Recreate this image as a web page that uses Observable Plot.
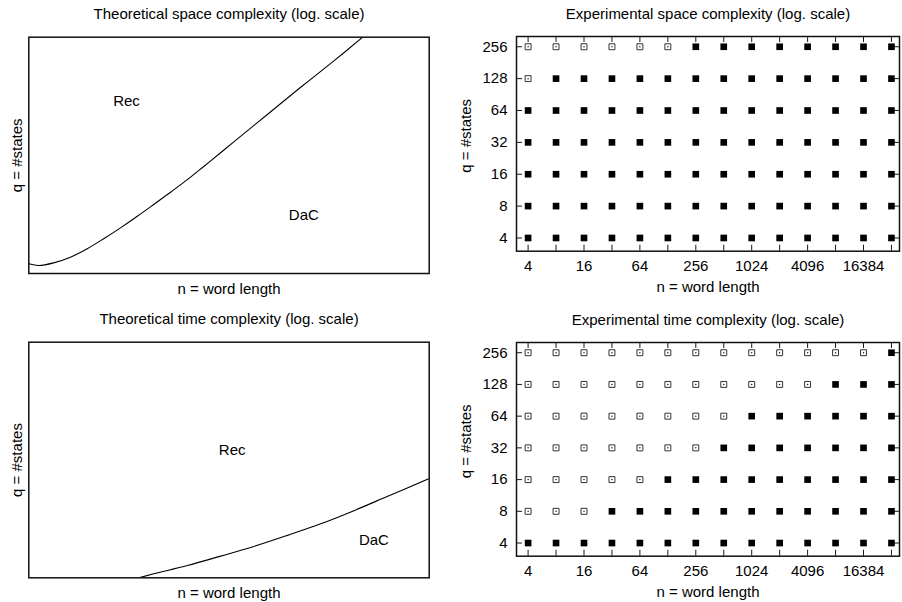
<!DOCTYPE html>
<html>
<head>
<meta charset="utf-8">
<script src="https://cdn.jsdelivr.net/npm/d3@7"></script>
<script src="https://cdn.jsdelivr.net/npm/@observablehq/plot@0.6"></script>
<style>
  html, body { margin: 0; padding: 0; background: #fff; }
  #chart { position: relative; width: 902px; height: 602px; overflow: hidden; background: #fff; }
  #chart svg { position: absolute; }
</style>
</head>
<body>
<div id="chart"></div>
<script>
// ---------- data ----------
const panelTitles = [
  "Theoretical space complexity (log. scale)",
  "Experimental space complexity (log. scale)",
  "Theoretical time complexity (log. scale)",
  "Experimental time complexity (log. scale)"
];
const xAxisLabel = "n = word length";
const yAxisLabel = "q = #states";

// theoretical boundaries (normalised log-log units, 0..1 across the frame)
const spaceBoundaryN = [0.000, 0.025, 0.062, 0.104, 0.146, 0.187, 0.229, 0.271, 0.312, 0.354, 0.396, 0.437, 0.479, 0.512, 0.595, 0.679, 0.762, 0.834];
const spaceBoundaryQ = [0.041, 0.034, 0.045, 0.069, 0.105, 0.147, 0.193, 0.242, 0.292, 0.344, 0.397, 0.453, 0.511, 0.557, 0.672, 0.788, 0.900, 1.000];
const timeBoundaryN  = [0.275, 0.312, 0.396, 0.479, 0.562, 0.646, 0.729, 0.812, 0.895, 1.000];
const timeBoundaryQ  = [0.000, 0.017, 0.052, 0.092, 0.133, 0.180, 0.229, 0.285, 0.345, 0.421];

const regionNames  = ["Rec", "DaC"];
const spaceRegionN = [0.244, 0.687];
const spaceRegionQ = [0.729, 0.245];
const timeRegionN  = [0.508, 0.862];
const timeRegionQ  = [0.542, 0.160];

// experimental grid
const nValues = [4, 8, 16, 32, 64, 128, 256, 512, 1024, 2048, 4096, 8192, 16384, 32768];
const qValues = [4, 8, 16, 32, 64, 128, 256];
const nTickLabels = [4, 16, 64, 256, 1024, 4096, 16384];
// for each q (same order as qValues): smallest n from which DaC wins (filled square)
const spaceDaCFrom = [4, 4, 4, 4, 4, 8, 256];
const timeDaCFrom  = [4, 32, 128, 512, 1024, 8192, 32768];

// ---------- drawing ----------
const FONT = '"Liberation Sans", Arial, Helvetica, sans-serif';
const FS = 15;
const chart = document.getElementById("chart");

function place(svg, left, top) {
  svg.style.left = left + "px";
  svg.style.top = top + "px";
  chart.appendChild(svg);
}

function baseStyle() {
  return {fontFamily: FONT, fontSize: FS + "px", background: "transparent", color: "#000", overflow: "visible"};
}

function txt(opts) {
  return Object.assign({fontSize: FS, fontFamily: FONT, fill: "#000"}, opts);
}

function theoPanel(title, bN, bQ, rN, rQ, m) {
  const curve = bN.map((n, i) => ({n, q: bQ[i]}));
  const regions = regionNames.map((name, i) => ({name, n: rN[i], q: rQ[i]}));
  return Plot.plot({
    width: 451, height: 301,
    marginLeft: m.l, marginRight: m.r, marginTop: m.t, marginBottom: m.b,
    x: {domain: [0, 1], axis: null},
    y: {domain: [0, 1], axis: null},
    style: baseStyle(),
    marks: [
      Plot.line(curve, {x: "n", y: "q", curve: "catmull-rom", stroke: "#000", strokeWidth: 1.1, clip: true}),
      Plot.text(regions, txt({x: "n", y: "q", text: "name"})),
      Plot.frame({stroke: "#111", strokeWidth: 1.5}),
      Plot.text([title], txt({text: d => d, frameAnchor: "top", dy: -18, textAnchor: "middle", lineAnchor: "bottom"})),
      Plot.text([xAxisLabel], txt({text: d => d, frameAnchor: "bottom", dy: 20, textAnchor: "middle", lineAnchor: "bottom"})),
      Plot.text([yAxisLabel], txt({text: d => d, frameAnchor: "left", dx: -12, rotate: -90, textAnchor: "middle", lineAnchor: "middle"}))
    ]
  });
}

function expPanel(title, dacFrom, m) {
  const cells = [];
  qValues.forEach((q, i) => nValues.forEach(n => cells.push({n, q, dac: n >= dacFrom[i]})));
  const W = 451, H = 301;
  const fw = W - m.l - m.r, fh = H - m.t - m.b;
  const T = 6;
  return Plot.plot({
    width: W, height: H,
    marginLeft: m.l, marginRight: m.r, marginTop: m.t, marginBottom: m.b,
    x: {type: "log", domain: [3, 40000], axis: null, label: null},
    y: {type: "log", domain: [3, 320], axis: null, label: null},
    style: baseStyle(),
    marks: [
      Plot.tickX(nValues, {x: d => d, insetTop: fh - T, stroke: "#1a1a1a", strokeWidth: 1}),
      Plot.tickX(nValues, {x: d => d, insetBottom: fh - T, stroke: "#1a1a1a", strokeWidth: 1}),
      Plot.tickY(qValues, {y: d => d, insetRight: fw - T, stroke: "#1a1a1a", strokeWidth: 1}),
      Plot.tickY(qValues, {y: d => d, insetLeft: fw - T, stroke: "#1a1a1a", strokeWidth: 1}),
      Plot.dot(cells.filter(d => d.dac), {x: "n", y: "q", symbol: "square", r: 3.75, fill: "#000"}),
      Plot.dot(cells.filter(d => !d.dac), {x: "n", y: "q", symbol: "square", r: 3.35, fill: "#fff", stroke: "#333", strokeWidth: 1}),
      Plot.dot(cells.filter(d => !d.dac), {x: "n", y: "q", r: 0.75, fill: "#222"}),
      Plot.text(nTickLabels, txt({x: d => d, text: d => String(d), frameAnchor: "bottom", dy: 9, textAnchor: "middle", lineAnchor: "top"})),
      Plot.text(qValues, txt({y: d => d, text: d => String(d), frameAnchor: "left", dx: -9, textAnchor: "end", lineAnchor: "middle"})),
      Plot.frame({stroke: "#111", strokeWidth: 1.5}),
      Plot.text([title], txt({text: d => d, frameAnchor: "top", dy: -18, textAnchor: "middle", lineAnchor: "bottom"})),
      Plot.text([xAxisLabel], txt({text: d => d, frameAnchor: "bottom", dy: 41, textAnchor: "middle", lineAnchor: "bottom"})),
      Plot.text([yAxisLabel], txt({text: d => d, frameAnchor: "left", dx: -50, dy: -8, rotate: -90, textAnchor: "middle", lineAnchor: "middle"}))
    ]
  });
}

place(theoPanel(panelTitles[0], spaceBoundaryN, spaceBoundaryQ, spaceRegionN, spaceRegionQ,
  {l: 28.3, r: 22.3, t: 36.7, b: 28}), 0, 0);
place(expPanel(panelTitles[1], spaceDaCFrom, {l: 65, r: 3, t: 36, b: 50.3}), 451, 0);
place(theoPanel(panelTitles[2], timeBoundaryN, timeBoundaryQ, timeRegionN, timeRegionQ,
  {l: 28.3, r: 22.3, t: 40.7, b: 24.7}), 0, 301);
place(expPanel(panelTitles[3], timeDaCFrom, {l: 65, r: 3, t: 41, b: 46.3}), 451, 301);
</script>
</body>
</html>
